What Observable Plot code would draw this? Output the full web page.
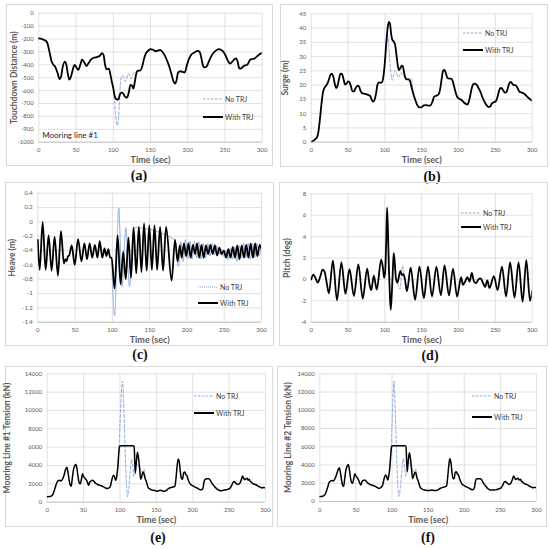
<!DOCTYPE html>
<html><head><meta charset="utf-8">
<script src="https://cdn.jsdelivr.net/npm/d3@7"></script>
<script src="https://cdn.jsdelivr.net/npm/@observablehq/plot@0.6"></script>
<style>
body{margin:0;background:#fff;}
#root{position:relative;width:550px;height:549px;overflow:hidden;font-family:Lato,"Liberation Sans",sans-serif;background:#fff;}
.box{position:absolute;border:1px solid #d9d9d9;box-sizing:border-box;}
.plot{position:absolute;}
.cap{position:absolute;font-family:"Liberation Serif",serif;font-weight:bold;font-size:14px;transform:translate(-50%,-50%);color:#111;white-space:nowrap;}
.leg{position:absolute;font-size:7px;color:#404040;display:flex;align-items:center;transform:translateY(-50%);white-space:nowrap;}
.leg svg{margin-right:2px;}
</style></head><body><div id="root"></div><script>
// ---------- data ----------
const timeTicks = [0, 50, 100, 150, 200, 250, 300];
const seriesNames = ["No TRJ", "With TRJ"];

// (a) Touchdown distance, mooring line #1
const touchTicks = [-1000, -900, -800, -700, -600, -500, -400, -300, -200, -100, 0];
const touchWith = [[0,-195],[4,-200],[8,-210],[11,-225],[14,-290],[17,-370],[19,-395],[22,-415],[25,-460],[28,-510],[30,-490],[32,-420],[35,-375],[37,-400],[39,-470],[41,-515],[43,-495],[46,-430],[48,-400],[51,-425],[53,-440],[56,-395],[58,-360],[61,-380],[64,-410],[67,-385],[70,-360],[74,-345],[78,-340],[82,-330],[85,-310],[87,-325],[89,-400],[91,-435],[94,-430],[96,-470],[98,-530],[100,-580],[102,-645],[105,-670],[107,-665],[109,-630],[111,-615],[113,-620],[115,-640],[117,-655],[119,-650],[121,-610],[123,-555],[125,-560],[127,-585],[129,-530],[131,-465],[133,-445],[136,-445],[139,-410],[141,-360],[144,-310],[147,-290],[150,-278],[154,-285],[157,-295],[160,-290],[163,-285],[166,-300],[169,-325],[172,-365],[175,-410],[178,-470],[181,-530],[183,-545],[185,-520],[187,-460],[190,-450],[193,-455],[196,-460],[199,-400],[202,-350],[205,-320],[209,-305],[213,-292],[216,-300],[218,-340],[220,-395],[222,-420],[225,-415],[228,-380],[231,-340],[235,-305],[239,-285],[242,-278],[245,-285],[248,-300],[251,-330],[254,-370],[257,-390],[260,-375],[263,-355],[265,-350],[267,-375],[269,-425],[271,-430],[274,-415],[277,-405],[280,-400],[282,-380],[284,-360],[287,-355],[290,-350],[293,-335],[296,-320],[300,-308]];
const touchNo = [[98,-530],[100,-580],[102,-700],[104,-840],[106,-870],[108,-720],[110,-520],[112,-485],[114,-490],[116,-530],[118,-510],[120,-470],[122,-480],[124,-510],[126,-480],[128,-460],[131,-455],[134,-450],[136,-445]];

// (b) Surge
const surgeTicks = [0, 5, 10, 15, 20, 25, 30, 35, 40, 45];
const surgeWith = [[0,0],[3,0.5],[6,1.2],[8,1.8],[10,4],[12,8.5],[14,13.5],[16,17.5],[18,19],[20,19.8],[22,20.5],[24,22],[26,23.5],[28,24],[30,23],[32,20.5],[34,19],[36,20],[38,22.5],[40,24],[42,23.8],[44,22],[46,20.2],[48,20.5],[50,21.3],[52,21],[54,19.5],[56,17.8],[58,17.8],[60,18.8],[63,19.8],[65,19.5],[67,18],[69,17.2],[72,17],[76,16.7],[80,16.2],[82,15],[84,14.2],[86,14.8],[88,17],[90,20.2],[92,21],[94,20.8],[96,21],[98,23],[100,28],[102,35],[104,40.5],[105.5,42.2],[107,41.5],[108.5,38],[110,36],[112,35.3],[114,34],[116,30],[117.5,27],[119,25.3],[121,26],[123,26.8],[124.5,26.5],[126,24.5],[128,22.5],[130,22],[132,22],[134,21.5],[136,19.5],[138,17.5],[141,15],[144,13],[147,12.2],[150,12.3],[153,12.9],[156,13],[159,12.8],[162,12.9],[165,14.5],[167,16],[170,16.3],[173,16.8],[175,18.5],[177,22],[179,25],[181,25.3],[183,24],[185,22.5],[187,22.3],[190,22.3],[192,21.5],[194,19.5],[196,17.5],[198,16],[201,15.2],[204,14.8],[207,14],[210,13.4],[212,13.2],[214,14.2],[216,16.5],[218,19],[220,20.3],[222,20.5],[225,20],[227,19],[230,17.5],[232,16],[235,14.3],[238,13],[241,12.3],[243,12.5],[245,13.5],[248,14],[251,14.5],[253,16],[255,18],[257,19],[259,18.8],[261,18],[263,17.4],[265,17.5],[267,19],[269,20.7],[271,21.1],[273,20.5],[275,20],[277,20],[279,19.5],[281,18.5],[283,17.6],[285,17.5],[287,17.3],[290,16.8],[293,16],[296,15.3],[300,14.5]];
const surgeNo = [[100,28],[102,34],[104,37.3],[106,31],[108,24.5],[110,21.7],[112,23.5],[114,25.2],[116,24],[118,22.8],[120,23.5],[122,24.5],[124,23.5],[126,23],[128,22.3],[130,22],[133,22.2],[136,22.3],[138,17.5]];

// (c) Heave
const heaveTicks = [-1.4, -1.2, -1, -0.8, -0.6, -0.4, -0.2, 0, 0.2, 0.4];
const heaveWith = [[0,-0.25],[2.5,-0.67],[6.5,0],[10.5,-0.67],[14.5,-0.19],[18.5,-0.68],[22.5,-0.21],[27,-0.75],[31,-0.13],[35,-0.58],[37,-0.52],[38.5,-0.55],[40.5,-0.48],[42,-0.47],[45.5,-0.33],[49.5,-0.6],[54,-0.24],[58.5,-0.55],[62.5,-0.3],[66,-0.52],[69.5,-0.3],[73,-0.5],[76.5,-0.32],[80,-0.5],[83,-0.27],[86.5,-0.5],[89.5,-0.37],[92,-0.48],[94.5,-0.38],[97,-0.5],[99,-0.5],[103,-0.93],[107,-0.19],[111,-0.87],[114.5,-0.42],[118,-0.8],[121.5,-0.22],[125,-0.78],[128.5,-0.08],[132,-0.72],[135.5,-0.07],[139,-0.7],[142.5,-0.02],[146,-0.68],[149.5,-0.05],[153,-0.67],[156.5,-0.05],[160,-0.67],[164,-0.07],[168,-0.68],[172,-0.07],[179.5,-0.82],[184,-0.25],[187.5,-0.55],[190.5,-0.33],[193,-0.5],[196,-0.3],[199,-0.48],[202,-0.3],[205,-0.5],[208,-0.32],[211,-0.45],[213.5,-0.3],[216.5,-0.5],[219.5,-0.32],[222.5,-0.5],[225.5,-0.33],[228.5,-0.45],[231.5,-0.32],[234.5,-0.45],[237.5,-0.33],[240.5,-0.47],[243.5,-0.36],[246.5,-0.45],[249.5,-0.4],[252.5,-0.5],[255.5,-0.38],[258.5,-0.5],[261.5,-0.35],[264.5,-0.5],[267.5,-0.33],[270.5,-0.52],[273.5,-0.33],[276.5,-0.5],[279.5,-0.32],[282.5,-0.5],[285.5,-0.3],[288.5,-0.5],[291.5,-0.3],[294.5,-0.48],[297.5,-0.32],[300,-0.38]];
const heaveNo = [[99,-0.5],[103,-1.31],[108.5,0.19],[113,-0.9],[118,-0.08],[123,-0.9],[128.5,-0.08],[184,-0.25],[188.5,-0.62],[192,-0.28],[195,-0.55],[198,-0.25],[201,-0.52],[204,-0.27],[207,-0.52],[210,-0.27],[213,-0.5],[216,-0.28],[219,-0.52],[222,-0.3],[225,-0.5],[228,-0.3],[231,-0.48],[234,-0.3],[237,-0.45],[240,-0.33],[243,-0.45],[246,-0.38],[249,-0.48],[252,-0.4],[255,-0.52],[258,-0.37],[261,-0.52],[264,-0.35],[267,-0.55],[270,-0.33],[273,-0.5],[276,-0.3],[279,-0.5],[282,-0.3],[285,-0.52],[288,-0.3],[291,-0.5],[294,-0.3],[297,-0.47],[300,-0.3]];

// (d) Pitch
const pitchTicks = [-4, -2, 0, 2, 4, 6, 8];
const pitchWith = [[0,0],[3,0.45],[6,0.1],[9,-0.3],[12,0.2],[15.5,0.9],[18,0.75],[21,-0.3],[24,-1.3],[29.5,1.75],[35,-1.95],[41,1.6],[46.5,-1.35],[52,0.95],[58,-1.55],[64,1.4],[70,-1.8],[76,1.0],[79,-0.4],[81.5,-1.0],[85,0.35],[89,-0.95],[95,1.85],[97.5,1.0],[99,0.15],[100.5,0.8],[101.8,3.5],[103,6.7],[104.3,4.2],[105.5,1],[106.8,-1.5],[108,-2.85],[109.5,-1.2],[110.8,0.8],[112,2.45],[113.5,1.5],[115,0.1],[117,-0.3],[121,0.8],[123,0.4],[125,0.5],[127,0.1],[130,-1.1],[135,1.1],[141,-1.9],[147,1.2],[153,-1.75],[158.5,1.2],[164,-1.6],[170,1.2],[176,-1.5],[181,1.3],[187,-1.5],[192.5,1.0],[198,-1.6],[203.5,0.2],[206,-0.5],[209,-0.2],[212,0.2],[215,-0.2],[218,0.6],[221,-0.2],[224,-0.35],[227,0],[230,0.1],[233,-0.3],[236,-0.7],[239,-0.1],[242,-0.8],[248,0.3],[253,-1.0],[259,1.2],[264.5,-1.6],[270,1.6],[276,-1.7],[281.5,1.6],[287,-2.1],[292,1.8],[297,-2.0],[300,-1.1]];
const pitchNo = [[115,0.1],[117,-0.3],[120.5,-0.9],[124,1.3],[127,0.2],[130,-1.1]];

// (e) Mooring line #1 tension, (f) Mooring line #2 tension
const tensionTicks = [0, 2000, 4000, 6000, 8000, 10000, 12000, 14000];
const tension1With = [[0,600],[4,620],[7,750],[9,1100],[11,1600],[13,2100],[15,2350],[17,2400],[19,2300],[21,2500],[23,2900],[25,3500],[27,3820],[28.5,3300],[30,2500],[31.5,1900],[33,1750],[34.5,2600],[36,3500],[38,4000],[39.5,4100],[41,3600],[42.5,2700],[44,2100],[45.5,2000],[47,2500],[48.5,3100],[50,2800],[52,2600],[54,2400],[56,2000],[57,1850],[58.5,2200],[60,2300],[62,2400],[64,2300],[66,2100],[68,2000],[70,1900],[72,1850],[74,1800],[77,1700],[80,1550],[83,1500],[85,1550],[87,1800],[89,2500],[91,2950],[92.5,2800],[94,2400],[95.5,2800],[97,3800],[98.5,5500],[99.5,6100],[102,6150],[110,6150],[117,6150],[119.5,6100],[120.3,4500],[121,3200],[122.3,4200],[124,5450],[125.5,4800],[127,3700],[128.5,2500],[130,2800],[131.5,3300],[133,3100],[134.5,2600],[136,2300],[137.5,1900],[139,1550],[141,1450],[143,1350],[146,1300],[149,1250],[152,1200],[155,1300],[158,1250],[161,1200],[164,1300],[167,1500],[170,1600],[173,1650],[175.5,1750],[177,2600],[178.5,3900],[180,4700],[181.5,4400],[183,3300],[184.5,2600],[186,2500],[187.5,3200],[189,3300],[190.5,3000],[192,2900],[193.5,2500],[195,2200],[197,1950],[200,1800],[203,1650],[206,1550],[209,1400],[212,1350],[214,1500],[215.5,2200],[217,2500],[219,2550],[222,2550],[224,2400],[226,2100],[228,1900],[230,1700],[233,1450],[236,1300],[239,1250],[242,1300],[245,1350],[248,1400],[251,1500],[253,1750],[255,2100],[257,2250],[259,2100],[261,1950],[263,1950],[265,2100],[267,2500],[268.5,2850],[270,2600],[271.5,2450],[273,2550],[274.5,2600],[276,2400],[277.5,2500],[279,2300],[281,2150],[283,2000],[285,1950],[287,1900],[289,1800],[291,1700],[293,1650],[295,1550],[297,1600],[300,1550]];
const tension1No = [[97,3800],[98.5,5500],[100,8500],[102,12000],[103.5,13200],[105,11000],[107,6000],[109,1800],[110.3,600],[112,1500],[114,3300],[116,4700],[117.5,4000],[119,2800],[120.5,3000],[122.3,4200],[131.5,3300],[133,3600],[134.5,2600]];
const tension2With = [[0,550],[4,580],[7,750],[9,1100],[11,1600],[13,2100],[15,2250],[17,2300],[19,2250],[21,2500],[23,2900],[25,3400],[27,3700],[28.5,3200],[30,2400],[31.5,1800],[33,1650],[34.5,2500],[36,3400],[38,3900],[39.5,4050],[41,3500],[42.5,2600],[44,2100],[45.5,2000],[47,2500],[48.5,3050],[50,2800],[52,2600],[54,2300],[56,1900],[57,1800],[58.5,2200],[60,2300],[62,2350],[64,2250],[66,2050],[68,1950],[70,1850],[72,1800],[74,1750],[77,1650],[80,1500],[83,1450],[85,1550],[87,1800],[89,2500],[91,2900],[92.5,2750],[94,2350],[95.5,2800],[97,3800],[98.5,5400],[99.5,6050],[102,6100],[110,6100],[117,6100],[119.3,6050],[120.2,4500],[121,3300],[122.3,4300],[124,5350],[125.5,4700],[127,3600],[128.5,2500],[130,2800],[131.5,3200],[133,3100],[134.5,2600],[136,2300],[137.5,1900],[139,1550],[141,1400],[143,1300],[146,1250],[149,1200],[152,1200],[155,1250],[158,1200],[161,1200],[164,1300],[167,1450],[170,1550],[173,1600],[175.5,1700],[177,2600],[178.5,3900],[180,4700],[181.5,4300],[183,3200],[184.5,2500],[186,2500],[187.5,3200],[189,3250],[190.5,3000],[192,2900],[193.5,2500],[195,2200],[197,1900],[200,1750],[203,1600],[206,1500],[209,1350],[212,1300],[214,1500],[215.5,2200],[217,2500],[219,2500],[222,2500],[224,2400],[226,2100],[228,1850],[230,1650],[233,1400],[236,1250],[239,1250],[242,1250],[245,1300],[248,1400],[251,1500],[253,1750],[255,2100],[257,2200],[259,2050],[261,1900],[263,1900],[265,2100],[267,2500],[268.5,2800],[270,2550],[271.5,2400],[273,2500],[274.5,2550],[276,2350],[277.5,2450],[279,2250],[281,2100],[283,1950],[285,1900],[287,1850],[289,1750],[291,1650],[293,1600],[295,1500],[297,1550],[300,1500]];
const tension2No = [[97,3800],[98.5,5400],[100,8500],[101.5,12000],[102.5,13200],[104,11000],[106,6000],[108,1800],[109.5,550],[111.5,1500],[113.5,3300],[115.5,4700],[117,4000],[119,2800],[120.5,3100],[122.3,4300],[131.5,3200],[133,3600],[134.5,2600]];

// ---------- layout ----------
const BLUE = "#8eaadb";
const GRID = "#d9d9d9";
const TXT = "#595959";
const panels = [
  {cap:"(a)", withD:touchWith, noD:touchNo, dom:[-1000,0], ticks:touchTicks, ylab:"Touchdown Distance (m)", box:[6,4,267,162], area:[38.3,261.7,12.7,141.7], tdy:17.6, ydx:-25, leg:[203,99.3,117.3], capXY:[139,176], note:"Mooring line #1"},
  {cap:"(b)", withD:surgeWith, noD:surgeNo, dom:[0,45], ticks:surgeTicks, ylab:"Surge (m)", box:[280,4,268,163], area:[310.7,531.7,13.3,141.7], tdy:17.6, ydx:-25.7, leg:[463,33.3,50], capXY:[432,177]},
  {cap:"(c)", withD:heaveWith, noD:heaveNo, dom:[-1.4,0.4], ticks:heaveTicks, ylab:"Heave (m)", box:[5,182,269,164], area:[37.3,261,192.7,321.7], tdy:18.3, ydx:-25.3, leg:[198,286.7,302.7], capXY:[140,355], dotted:true},
  {cap:"(d)", withD:pitchWith, noD:pitchNo, dom:[-4,8], ticks:pitchTicks, ylab:"Pitch (deg)", box:[279,182,269,164], area:[310.7,531.7,193.3,321.7], tdy:17.6, ydx:-24, leg:[461,212.7,227], capXY:[430,356]},
  {cap:"(e)", withD:tension1With, noD:tension1No, dom:[0,14000], ticks:tensionTicks, ylab:"Mooring Line #1 Tension (kN)", box:[5,366,268,161], area:[46.7,265,373.3,501.7], tdy:18.3, ydx:-40, leg:[194,396,412.7], capXY:[158,538], thin:true},
  {cap:"(f)", withD:tension2With, noD:tension2No, dom:[0,14000], ticks:tensionTicks, ylab:"Mooring Line #2 Tension (kN)", box:[277,366,270,161], area:[319.3,536,373.3,501], tdy:19, ydx:-31.5, leg:[472,396,417], capXY:[428,538], thin:true}
];

const root = document.getElementById("root");
const fmt = d => String(d);

function legendItem(x, y, label, isWith, dotted) {
  const div = document.createElement("div");
  div.className = "leg";
  div.style.left = x + "px";
  div.style.top = y + "px";
  const dash = dotted ? "1.2,0.8" : "2.5,1.5";
  div.innerHTML = isWith
    ? `<svg width="20" height="4"><line x1="0" y1="2" x2="20" y2="2" stroke="#000" stroke-width="2"/></svg><span>${label}</span>`
    : `<svg width="20" height="4"><line x1="0" y1="2" x2="20" y2="2" stroke="${BLUE}" stroke-width="1" stroke-dasharray="${dash}"/></svg><span>${label}</span>`;
  root.appendChild(div);
}

panels.forEach(p => {
  const [bl, bt, bw, bh] = p.box;
  const [x0, x1, y0, y1] = p.area;
  const box = document.createElement("div");
  box.className = "box";
  Object.assign(box.style, {left: bl + "px", top: bt + "px", width: bw + "px", height: bh + "px"});
  root.appendChild(box);

  const marks = [
    Plot.gridX(timeTicks, {stroke: GRID, strokeOpacity: 1, strokeWidth: 0.8}),
    Plot.gridY(p.ticks, {stroke: GRID, strokeOpacity: 1, strokeWidth: 0.8}),
    Plot.ruleY([p.dom[0]], {stroke: "#bfbfbf", strokeWidth: 0.9}),
    Plot.axisX(timeTicks, {tickSize: 0, tickPadding: 6, fontSize: 6, tickFormat: fmt, label: null, fill: TXT}),
    Plot.axisY(p.ticks, {tickSize: 0, tickPadding: 5, fontSize: 6, tickFormat: fmt, label: null, fill: TXT}),
    Plot.text(["Time (sec)"], {text: d => d, frameAnchor: "bottom", textAnchor: "middle", lineAnchor: "middle", dy: p.tdy, fontSize: 9, fontWeight: "bold", fill: TXT}),
    Plot.text([p.ylab], {text: d => d, frameAnchor: "left", textAnchor: "middle", lineAnchor: "middle", dx: p.ydx, rotate: -90, fontSize: 8.5, fontWeight: "bold", fill: TXT}),
    Plot.line(p.noD, {x: d => d[0], y: d => d[1], stroke: BLUE, strokeWidth: 1, strokeDasharray: p.dotted ? "1.2,0.8" : "3,2", curve: "monotone-x", clip: true}),
    Plot.line(p.withD, {x: d => d[0], y: d => d[1], stroke: "#000", strokeWidth: p.thin ? 1.5 : 1.8, curve: "monotone-x", clip: true})
  ];
  if (p.note) marks.push(Plot.text([p.note], {text: d => d, frameAnchor: "bottom-left", textAnchor: "start", lineAnchor: "middle", dx: 3.4, dy: -6.7, fontSize: 8, fill: "#262626"}));

  const chart = Plot.plot({
    width: bw, height: bh,
    marginLeft: x0 - bl, marginRight: bl + bw - x1,
    marginTop: y0 - bt, marginBottom: bt + bh - y1,
    x: {domain: [0, 300], label: null},
    y: {domain: p.dom, label: null},
    style: {fontFamily: "Lato, 'Liberation Sans', sans-serif", color: TXT, background: "transparent", overflow: "visible"},
    marks
  });
  chart.classList.add("plot");
  chart.style.left = bl + "px";
  chart.style.top = bt + "px";
  root.appendChild(chart);

  legendItem(p.leg[0], p.leg[1], seriesNames[0], false, p.dotted);
  legendItem(p.leg[0], p.leg[2], seriesNames[1], true, false);

  const cap = document.createElement("div");
  cap.className = "cap";
  cap.textContent = p.cap;
  cap.style.left = p.capXY[0] + "px";
  cap.style.top = p.capXY[1] + "px";
  root.appendChild(cap);
});
</script></body></html>
